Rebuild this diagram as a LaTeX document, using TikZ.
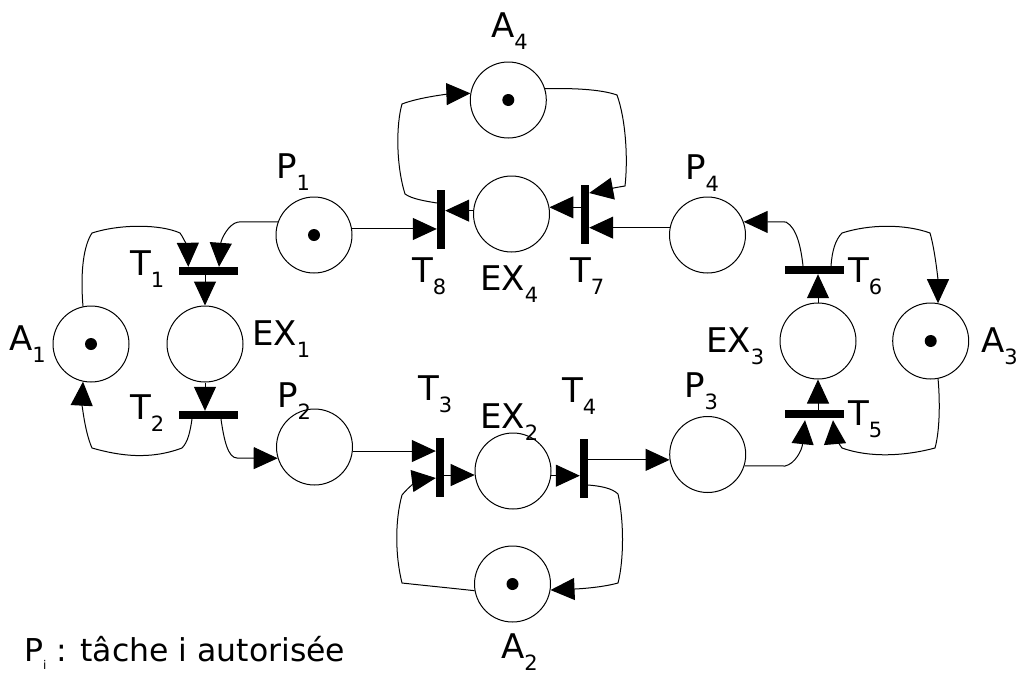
\documentclass[tikz,border=0pt]{standalone}
\usepackage{fontspec}
\setmainfont{DejaVu Sans}
\usetikzlibrary{arrows.meta,calc}

% lowered index used in the place and transition names
\newcommand\idx[1]{\raisebox{-12pt}{\fontsize{21}{21}\selectfont #1}}

\begin{document}
\begin{tikzpicture}[x=1pt,y=-1pt,
  place/.style={circle,draw,line width=1pt,minimum size=76pt,inner sep=0pt},
  hbar/.style={rectangle,fill=black,minimum width=59pt,minimum height=8pt,inner sep=0pt},
  vbar/.style={rectangle,fill=black,minimum width=8pt,minimum height=59pt,inner sep=0pt},
  token/.style={circle,fill=black,minimum size=12pt,inner sep=0pt},
  lbl/.style={anchor=base west,inner sep=0pt,font=\fontsize{34}{34}\selectfont},
  arc/.style={line width=1pt,-{Triangle[length=24pt,width=22pt]}}]

\useasboundingbox (0,0) rectangle (1017,675);

% places
\node[place] (A1)  at (91,344)    {};
\node[place] (EX1) at (205,344)   {};
\node[place] (P1)  at (314,235)   {};
\node[place] (P2)  at (314.5,447) {};
\node[place] (A4)  at (508.3,100) {};
\node[place] (EX4) at (511.5,214) {};
\node[place] (EX2) at (513,471)   {};
\node[place] (A2)  at (512.5,584) {};
\node[place] (P4)  at (707.5,235) {};
\node[place] (P3)  at (707.7,454.5) {};
\node[place] (EX3) at (818,341)   {};
\node[place] (A3)  at (930.7,341) {};

% tokens
\node[token] (kA1) at (A1) {};
\node[token] (kP1) at (P1) {};
\node[token] (kA4) at (A4) {};
\node[token] (kA2) at (A2) {};
\node[token] (kA3) at (A3) {};

% transitions
\node[hbar] (T1) at (208,271) {};
\node[hbar] (T2) at (208,415) {};
\node[vbar] (T3) at (440,467) {};
\node[vbar] (T4) at (584,468) {};
\node[hbar] (T5) at (814,414) {};
\node[hbar] (T6) at (814,270) {};
\node[vbar] (T7) at (585,214) {};
\node[vbar] (T8) at (441,219) {};

% names
\node[lbl] (nA1)  at (9,350)    {A\idx{1}};
\node[lbl] (nA2)  at (501,658)  {A\idx{2}};
\node[lbl] (nA3)  at (981,352)  {A\idx{3}};
\node[lbl] (nA4)  at (491,37)   {A\idx{4}};
\node[lbl] (nP1)  at (276,178)  {P\idx{1}};
\node[lbl] (nP2)  at (277,407)  {P\idx{2}};
\node[lbl] (nP3)  at (684,397)  {P\idx{3}};
\node[lbl] (nP4)  at (685,179)  {P\idx{4}};
\node[lbl] (nEX1) at (252,345)  {EX\idx{1}};
\node[lbl] (nEX2) at (480,428)  {EX\idx{2}};
\node[lbl] (nEX3) at (706,352)  {EX\idx{3}};
\node[lbl] (nEX4) at (480,290)  {EX\idx{4}};
\node[lbl] (nT1)  at (130,275)  {T\idx{1}};
\node[lbl] (nT2)  at (130,419)  {T\idx{2}};
\node[lbl] (nT3)  at (418,400)  {T\idx{3}};
\node[lbl] (nT4)  at (562,402)  {T\idx{4}};
\node[lbl] (nT5)  at (848,425)  {T\idx{5}};
\node[lbl] (nT6)  at (848,282)  {T\idx{6}};
\node[lbl] (nT7)  at (570,282)  {T\idx{7}};
\node[lbl] (nT8)  at (412,282)  {T\idx{8}};

\node[anchor=base west,inner sep=0pt,font=\fontsize{31.5}{32}\selectfont] (legend) at (24,661)
  {P\raisebox{-8pt}{\fontsize{12}{12}\selectfont i} : tâche i autorisée};

% machine 1
\draw[arc] (A1.102) .. controls (80,270) and (84,245) .. (92,233)
  .. controls (120,224) and (160,224) .. (180,233)
  .. controls (185,240) and (188,250) .. ($(T1.north west)+(10,0)$);
\draw[arc] (P1.160) -- (238,222) .. controls (228,224) and (221,240) .. ($(T1.north)+(11,0)$);
\draw[arc] (EX1.north |- T1.south) -- (EX1.north);
\draw[arc] (EX1.south) -- (EX1.south |- T2.north);
\draw[arc] ($(T2.south)+(-16,0)$) .. controls (190,432) and (188,442) .. (182,448)
  .. controls (150,460) and (120,456) .. (92,448)
  .. controls (84,430) and (82,400) .. (A1.258);
\draw[arc] ($(T2.south)+(13,0)$) .. controls (224,440) and (228,458) .. (237,458) -- (P2.197);

% machine 2
\draw[arc] (P2.-6) -- (P2.-6 -| T3.west);
\draw[arc] (A2.190) .. controls (450,588) and (420,585) .. (402,583)
  .. controls (395,555) and (395,520) .. (402,495)
  .. controls (410,485) and (420,480) .. ($(T3.west)+(0,11)$);
\draw[arc] (EX2.186 -| T3.east) -- (EX2.186);
\draw[arc] (EX2.-7) -- (EX2.-7 -| T4.west);
\draw[arc] (T4.east |- P3.188) -- (P3.188);
\draw[arc] ($(T4.east)+(0,17)$) .. controls (600,486) and (612,488) .. (618,494)
  .. controls (624,520) and (624,560) .. (618,583)
  .. controls (600,588) and (575,589) .. (A2.-9);

% machine 3
\draw[arc] (P3.-17) -- (785,466) .. controls (795,464) and (802,450) .. ($(T5.south)+(-9,2)$);
\draw[arc] (A3.281) .. controls (940,400) and (940,430) .. (935,448)
  .. controls (905,456) and (870,458) .. (842,448)
  .. controls (836,440) and (834,432) .. ($(T5.south)+(19,2)$);
\draw[arc] (EX3.south |- T5.north) -- (EX3.south);
\draw[arc] (EX3.north) -- (EX3.north |- T6.south);
\draw[arc] ($(T6.north)+(-11,0)$) .. controls (801,248) and (797,228) .. (786,222) -- (P4.20);
\draw[arc] ($(T6.north)+(17,0)$) .. controls (832,252) and (835,240) .. (842,233)
  .. controls (870,224) and (905,224) .. (930,233)
  .. controls (935,250) and (938,280) .. (A3.79);

% machine 4
\draw[arc] (P4.169) -- (P4.169 -| T7.east);
\draw[arc] (EX4.10 -| T7.west) -- (EX4.10);
\draw[arc] (EX4.175) -- (EX4.175 -| T8.east);
\draw[arc] (P1.9) -- (P1.9 -| T8.west);
\draw[arc] ($(T8.west)+(0,-16)$) .. controls (425,201) and (412,199) .. (405,194)
  .. controls (396,165) and (396,125) .. (402,104)
  .. controls (420,97) and (450,94) .. (A4.170);
\draw[arc] (A4.17) .. controls (570,88) and (600,89) .. (617,95)
  .. controls (626,120) and (628,160) .. (625,186)
  .. controls (612,188) and (600,191) .. ($(T7.east)+(0,-21)$);

\end{tikzpicture}
\end{document}
